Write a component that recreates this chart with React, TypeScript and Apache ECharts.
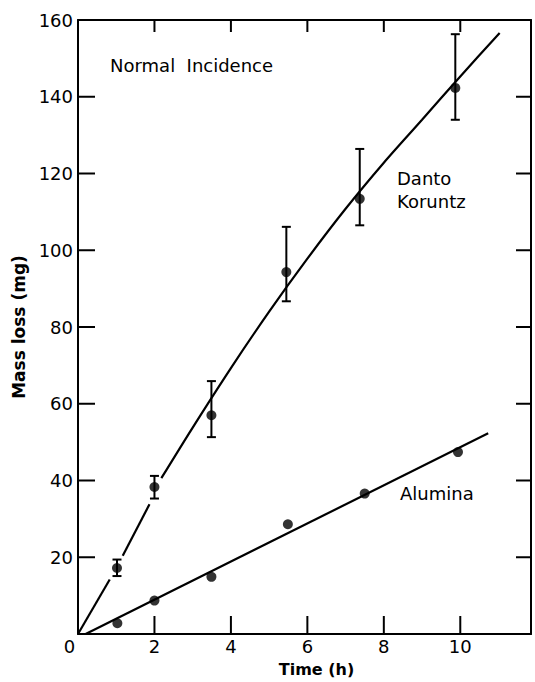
import React, { useEffect, useRef } from 'react';
import * as echarts from 'echarts';

// Danto Koruntz measurements (time h, mass loss mg, error bar low/high)
const dkTime = [1.02, 2.0, 3.49, 5.45, 7.37, 9.87];
const dkMass = [17.2, 38.3, 57.0, 94.3, 113.4, 142.3];
const dkLow = [15.1, 35.3, 51.3, 86.7, 106.5, 134.0];
const dkHigh = [19.4, 41.2, 65.9, 106.1, 126.4, 156.3];

// Alumina measurements
const alTime = [1.03, 2.0, 3.49, 5.49, 7.5, 9.94];
const alMass = [2.8, 8.7, 14.9, 28.6, 36.6, 47.4];

// Fitted curves (Danto Koruntz line is broken near the first points)
const dkFitA = [[0, 0], [0.83, 14.2]];
const dkFitB = [[1.17, 20.4], [1.87, 33.8]];
const dkFitC = [[2.18, 40.6], [3, 53.8], [4, 69.3], [5, 84], [6, 97.8], [7, 110.8], [8, 122.8], [9, 134], [10, 145.3], [11.03, 156.6]];
const alFit = [[0.2, 0], [10.73, 52.3]];

// Axis ranges and tick values
const xMin = 0;
const xMax = 11.85;
const xStep = 2;
const yMin = 0;
const yMax = 160;
const yStep = 20;
const xTickVals = [2, 4, 6, 8, 10];
const yTickVals = [20, 40, 60, 80, 100, 120, 140];

const FONT = 'DejaVu Sans';

export default function App() {
  const ref = useRef<HTMLDivElement>(null);

  useEffect(() => {
    if (!ref.current) return;
    const chart = echarts.init(ref.current, null, { renderer: 'svg' });

    const dkPoints = dkTime.map((t, i) => [t, dkMass[i]]);
    const alPoints = alTime.map((t, i) => [t, alMass[i]]);
    const dkErr = dkTime.map((t, i) => [t, dkLow[i], dkHigh[i]]);

    const lineStyle = { color: '#000', width: 2.2 };
    const fitSeries = (data: number[][], smooth: number | boolean) => ({
      type: 'line',
      data,
      showSymbol: false,
      symbol: 'none',
      smooth,
      lineStyle,
      silent: true,
      z: 2,
    });

    const axisCommon = {
      axisLine: { show: true, onZero: false, lineStyle: { color: '#000', width: 2 } },
      axisTick: { show: false },
      splitLine: { show: false },
    };

    const texts = [
      {
        type: 'text',
        left: 110,
        top: 56,
        style: { text: 'Normal  Incidence', fill: '#000', font: `18px "${FONT}"` },
      },
      {
        type: 'text',
        left: 397,
        top: 167,
        style: { text: 'Danto\nKoruntz', fill: '#000', font: `18px "${FONT}"`, lineHeight: 23 },
      },
      {
        type: 'text',
        left: 400,
        top: 484,
        style: { text: 'Alumina', fill: '#000', font: `18px "${FONT}"` },
      },
    ];

    const option: any = {
      animation: false,
      backgroundColor: '#fff',
      grid: { left: 78, right: 4, top: 20, bottom: 43 },
      xAxis: [
        {
          type: 'value',
          min: xMin,
          max: xMax,
          interval: xStep,
          position: 'bottom',
          ...axisCommon,
          axisLabel: {
            color: '#000',
            fontFamily: FONT,
            fontSize: 18,
            margin: 3,
            formatter: (v: number) => (v === 0 ? '{z|0}' : v % 2 === 0 && v <= 10 ? String(v) : ''),
            rich: { z: { padding: [0, 17, 0, 0], fontSize: 18, fontFamily: FONT, color: '#000' } },
          },
          name: 'Time (h)',
          nameLocation: 'middle',
          nameGap: 27,
          nameTextStyle: { color: '#000', fontFamily: FONT, fontSize: 16, fontWeight: 'bold', padding: [0, 0, 0, 24] },
        },
        {
          type: 'value',
          min: xMin,
          max: xMax,
          interval: xStep,
          position: 'top',
          ...axisCommon,
          axisLabel: { show: false },
        },
      ],
      yAxis: [
        {
          type: 'value',
          min: yMin,
          max: yMax,
          interval: yStep,
          position: 'left',
          ...axisCommon,
          axisLabel: {
            color: '#000',
            fontFamily: FONT,
            fontSize: 18,
            margin: 5,
            formatter: (v: number) => (v === 0 ? '' : String(v)),
          },
          name: 'Mass loss (mg)',
          nameLocation: 'middle',
          nameGap: 50,
          nameRotate: 90,
          nameTextStyle: { color: '#000', fontFamily: FONT, fontSize: 17, fontWeight: 'bold' },
        },
        {
          type: 'value',
          min: yMin,
          max: yMax,
          interval: yStep,
          position: 'right',
          ...axisCommon,
          axisLabel: { show: false },
        },
      ],
      series: [
        fitSeries(dkFitA, false),
        fitSeries(dkFitB, false),
        fitSeries(dkFitC, 0.3),
        fitSeries(alFit, false),
        {
          type: 'custom',
          data: dkErr,
          encode: { x: 0, y: [1, 2] },
          z: 3,
          silent: true,
          renderItem: (params: any, api: any) => {
            const x = api.value(0);
            const lo = api.coord([x, api.value(1)]).slice();
            const hi = api.coord([x, api.value(2)]).slice();
            const w = 4.5;
            const st = { stroke: '#000', lineWidth: 2 };
            return {
              type: 'group',
              children: [
                { type: 'line', shape: { x1: lo[0], y1: lo[1], x2: hi[0], y2: hi[1] }, style: st },
                { type: 'line', shape: { x1: lo[0] - w, y1: lo[1], x2: lo[0] + w, y2: lo[1] }, style: st },
                { type: 'line', shape: { x1: hi[0] - w, y1: hi[1], x2: hi[0] + w, y2: hi[1] }, style: st },
              ],
            };
          },
        },
        {
          type: 'scatter',
          data: dkPoints,
          symbol: 'circle',
          symbolSize: 10,
          itemStyle: { color: '#000' },
          z: 4,
        },
        {
          type: 'scatter',
          data: alPoints,
          symbol: 'circle',
          symbolSize: 10,
          itemStyle: { color: '#000' },
          z: 4,
        },
      ],
      graphic: texts,
    };

    chart.setOption(option);

    // Inward tick marks on all four frame sides, placed through the chart's own scales
    const px = (x: number, y: number): number[] => {
      const p = chart.convertToPixel({ xAxisIndex: 0, yAxisIndex: 0 }, [x, y]) as number[];
      return [Number(p[0]), Number(p[1])];
    };
    const ticks: any[] = [];
    const mk = (x1: number, y1: number, x2: number, y2: number) => ({
      type: 'line',
      z: 100,
      zlevel: 1,
      silent: true,
      shape: { x1, y1, x2, y2 },
      style: { stroke: '#000', lineWidth: 2 },
    });
    yTickVals.forEach((v) => {
      const l = px(xMin, v);
      const r = px(xMax, v);
      ticks.push(mk(l[0], l[1], l[0] + 17, l[1]));
      ticks.push(mk(r[0] - 15, r[1], r[0], r[1]));
    });
    xTickVals.forEach((v) => {
      const b = px(v, yMin);
      const t = px(v, yMax);
      ticks.push(mk(b[0], b[1] - 18, b[0], b[1]));
      ticks.push(mk(t[0], t[1], t[0], t[1] + 12));
    });
    chart.setOption({ graphic: [...texts, ...ticks] });

    return () => chart.dispose();
  }, []);

  return (
    <div
      ref={ref}
      style={{ position: 'fixed', left: 0, top: 0, width: 535, height: 682, background: '#fff' }}
    />
  );
}
